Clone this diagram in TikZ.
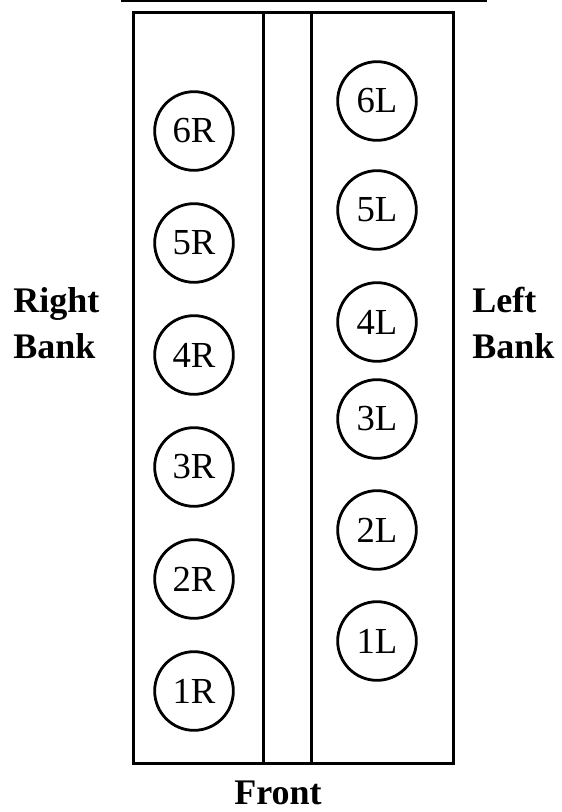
\documentclass[tikz,border=0pt]{standalone}
\usepackage{fontspec}
\setmainfont{Liberation Serif}
\usetikzlibrary{positioning}

\begin{document}
\begin{tikzpicture}[x=0.75pt,y=-0.75pt,
    cyl/.style={circle,draw,line width=2.1pt,minimum size=59pt,inner sep=0pt,
      font=\fontsize{27.5}{30}\selectfont},
    bank/.style={anchor=north west,inner sep=0pt,align=left,
      font=\fontsize{27}{34.5}\selectfont\bfseries}]

	      \useasboundingbox (0,0) rectangle (561,812);

	      % block outline and valley
	      \draw[line width=1.5pt] (121,1) -- (487,1);
	      \draw[line width=2.25pt] (133,13) rectangle (453,763);
	      \draw[line width=2.25pt] (263,13) -- (263,763);
	      \draw[line width=2.25pt] (311,13) -- (311,763);

	      % right bank cylinders
	      \node[cyl] (6R) at (194,131) {6R};
	      \node[cyl] (5R) at (194,243) {5R};
	      \node[cyl] (4R) at (194,355) {4R};
	      \node[cyl] (3R) at (194,467) {3R};
	      \node[cyl] (2R) at (194,579) {2R};
	      \node[cyl] (1R) at (194,691) {1R};

	      % left bank cylinders
	      \node[cyl] (6L) at (377,101) {6L};
	      \node[cyl] (5L) at (377,210) {5L};
	      \node[cyl] (4L) at (377,322) {4L};
	      \node[cyl] (3L) at (377,419) {3L};
	      \node[cyl] (2L) at (377,530) {2L};
	      \node[cyl] (1L) at (377,641) {1L};

	      \node[bank] (right) at (13,287) {Right\\Bank};
	      \node[bank] (left) at (472,287) {Left\\Bank};
	      \node[anchor=base,inner sep=0pt,font=\fontsize{27}{30}\selectfont\bfseries]
	        (front) at (278,804) {Front};
		      \end{tikzpicture}
\end{document}
